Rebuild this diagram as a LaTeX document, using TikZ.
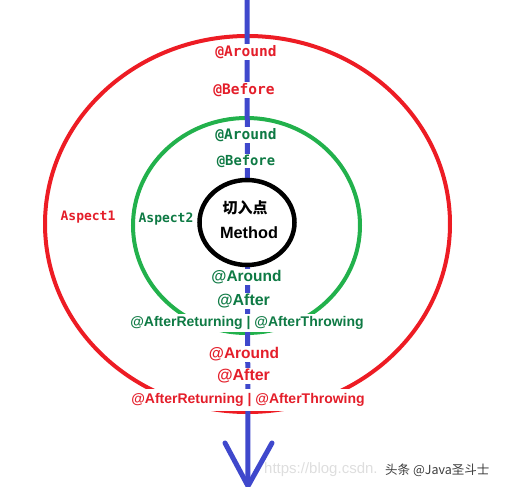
\documentclass[tikz,border=0pt]{standalone}
\usepackage{fontspec}
\setmainfont{Liberation Sans}
\newfontfamily\monob{DejaVu Sans Mono}
\newfontfamily\cjk{Noto Sans CJK SC}
\usetikzlibrary{shapes.geometric}
\definecolor{redline}{RGB}{237,28,36}
\definecolor{greenline}{RGB}{34,177,76}
\definecolor{blueline}{RGB}{63,72,204}
\definecolor{redtext}{RGB}{228,30,42}
\definecolor{greentext}{RGB}{14,122,68}
\definecolor{wmlight}{RGB}{222,222,222}
\definecolor{wmdark}{RGB}{60,60,60}
\tikzset{
  lab/.style={fill=white, inner xsep=1pt, inner ysep=1pt},
  monolab/.style={lab, font=\monob\bfseries\fontsize{#1}{#1}\selectfont},
  sanslab/.style={lab, font=\bfseries\fontsize{#1}{#1}\selectfont},
  ring/.style={line width=4pt},
  bluestroke/.style={draw=blueline, line width=5pt}
}
\begin{document}
\begin{tikzpicture}[x=1pt,y=-1pt]
\useasboundingbox (0,0) rectangle (507,487);
% rings
\draw[ring, draw=redline] (247.5,224) ellipse [x radius=202.5pt, y radius=188pt];
\draw[ring, draw=greenline] (246.5,225.5) ellipse [x radius=113.5pt, y radius=107.5pt];
% flow line
\coordinate (top) at (247,-3);
\coordinate (tip) at (248,486);
\coordinate (al) at (225,443);
\coordinate (ar) at (272,443);
\draw[bluestroke] (top) -- (tip);
% join point
\node[draw=black, line width=4.5pt, fill=white, ellipse, minimum width=95pt, minimum height=85pt, inner sep=0pt] (jp) at (247,222.5) {};
% top labels
\node[monolab=14.5, text=redtext] (ra1) at (246,52) {@Around};
\node[monolab=14.5, text=redtext] (rb1) at (244,90) {@Before};
\node[monolab=14.5, text=greentext] (ga1) at (246,135) {@Around};
\node[monolab=13.8, text=greentext] (gb1) at (246,161) {@Before};
\node[lab, font=\cjk\bfseries\fontsize{15}{15}\selectfont] (cut) at (245,208) {切入点};
\node[sanslab=16.3] (meth) at (249,233) {Method};
\node[monolab=13, text=redtext] (asp1) at (88,217) {Aspect1};
\node[monolab=13, text=greentext] (asp2) at (166,219) {Aspect2};
% bottom labels
\node[sanslab=15.5, text=greentext] (ga2) at (246.5,277) {@Around};
\node[sanslab=16, text=greentext] (gf2) at (243.5,301) {@After};
\node[sanslab=14, text=greentext, inner ysep=2.5pt] (gr2) at (247,323) {@AfterReturning | @AfterThrowing};
\node[sanslab=15.5, text=redtext] (ra2) at (244,354) {@Around};
\node[sanslab=16, text=redtext] (rf2) at (243.5,376) {@After};
\node[sanslab=14, text=redtext, inner ysep=4pt] (rr2) at (248,400) {@AfterReturning | @AfterThrowing};
% arrow head
\draw[bluestroke, line cap=round] (al) -- (tip) -- (ar);
% watermark
\node[inner sep=0pt, font=\fontsize{15}{15}\selectfont, text=wmlight, anchor=west] (wm1) at (264,470) {https://blog.csdn.};
\node[inner sep=0pt, font=\cjk\fontsize{12.5}{12.5}\selectfont, text=wmdark, anchor=west] (wm2) at (385,470) {头条 @Java圣斗士};
\end{tikzpicture}
\end{document}
